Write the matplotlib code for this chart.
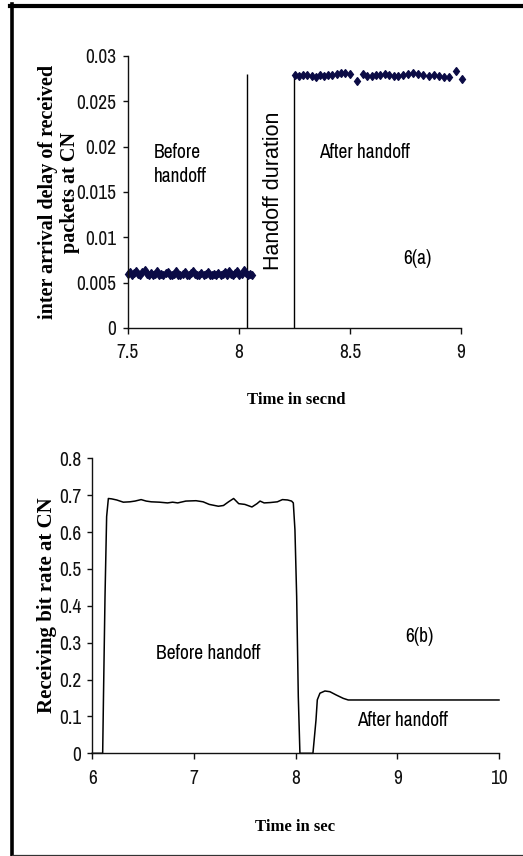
import matplotlib
matplotlib.use("Agg")
import matplotlib.pyplot as plt
from matplotlib.lines import Line2D

# ---------------- data: 6(a) inter-arrival delay ----------------
before_t = [7.500, 7.509, 7.519, 7.528, 7.538, 7.547, 7.557, 7.566, 7.576, 7.585,
            7.595, 7.604, 7.614, 7.623, 7.633, 7.642, 7.652, 7.661, 7.671, 7.680,
            7.690, 7.699, 7.709, 7.718, 7.728, 7.737, 7.747, 7.756, 7.766, 7.775,
            7.785, 7.794, 7.804, 7.813, 7.823, 7.832, 7.842, 7.851, 7.861, 7.870,
            7.880, 7.889, 7.899, 7.908, 7.918, 7.927, 7.937, 7.946, 7.956, 7.965,
            7.975, 7.984, 7.994, 8.003, 8.013, 8.022, 8.032, 8.041, 8.050, 8.058]
before_d = [0.0060, 0.0062, 0.0059, 0.0061, 0.0063, 0.0060, 0.0058, 0.0062, 0.0064, 0.0060,
            0.0059, 0.0061, 0.0058, 0.0060, 0.0063, 0.0059, 0.0060, 0.0058, 0.0061, 0.0062,
            0.0059, 0.0058, 0.0060, 0.0063, 0.0059, 0.0058, 0.0060, 0.0062, 0.0058, 0.0059,
            0.0061, 0.0063, 0.0060, 0.0058, 0.0059, 0.0061, 0.0058, 0.0060, 0.0062, 0.0059,
            0.0058, 0.0060, 0.0059, 0.0061, 0.0058, 0.0060, 0.0062, 0.0059, 0.0063, 0.0060,
            0.0058, 0.0061, 0.0063, 0.0059, 0.0060, 0.0064, 0.0061, 0.0059, 0.0060, 0.0058]
after_t = [8.253, 8.272, 8.290, 8.308, 8.328, 8.347, 8.365, 8.385, 8.403, 8.421,
           8.440, 8.458, 8.478, 8.500, 8.530, 8.557, 8.578, 8.598, 8.617, 8.635,
           8.658, 8.677, 8.698, 8.718, 8.740, 8.763, 8.785, 8.808, 8.830, 8.857,
           8.880, 8.901, 8.923, 8.947, 8.977, 9.003]
after_d = [0.02790, 0.02783, 0.02790, 0.02790, 0.02783, 0.02772, 0.02790, 0.02783, 0.02790, 0.02790,
           0.02798, 0.02809, 0.02816, 0.02801, 0.02728, 0.02801, 0.02783, 0.02783, 0.02790, 0.02790,
           0.02801, 0.02790, 0.02783, 0.02783, 0.02790, 0.02801, 0.02809, 0.02798, 0.02790, 0.02783,
           0.02790, 0.02779, 0.02772, 0.02765, 0.02838, 0.02746]
handoff_marks_t = [8.038, 8.25]
handoff_marks_h = [0.0280, 0.0279]
a_xticks = [7.5, 8, 8.5, 9]
a_xticklabels = ["7.5", "8", "8.5", "9"]
a_yticks = [0, 0.005, 0.01, 0.015, 0.02, 0.025, 0.03]
a_yticklabels = ["0", "0.005", "0.01", "0.015", "0.02", "0.025", "0.03"]

# ---------------- data: 6(b) receiving bit rate ----------------
rate_t = [6.0, 6.102, 6.110, 6.125, 6.141, 6.158, 6.19, 6.24, 6.305, 6.37,
          6.42, 6.48, 6.53, 6.58, 6.66, 6.74, 6.79, 6.84, 6.92, 7.02,
          7.09, 7.15, 7.24, 7.29, 7.34, 7.39, 7.44, 7.50, 7.57, 7.62,
          7.65, 7.69, 7.75, 7.82, 7.87, 7.92, 7.96, 7.977, 7.993, 8.010,
          8.026, 8.042, 8.170, 8.200, 8.213, 8.239, 8.288, 8.337, 8.400, 8.468,
          8.517, 10.0]
rate_v = [0, 0, 0.154, 0.425, 0.642, 0.691, 0.690, 0.687, 0.681, 0.682,
          0.684, 0.688, 0.684, 0.682, 0.681, 0.679, 0.681, 0.679, 0.684, 0.685,
          0.682, 0.675, 0.670, 0.672, 0.682, 0.691, 0.677, 0.675, 0.668, 0.677,
          0.684, 0.679, 0.680, 0.682, 0.688, 0.687, 0.684, 0.679, 0.606, 0.425,
          0.154, 0, 0, 0.090, 0.145, 0.163, 0.169, 0.167, 0.158, 0.149,
          0.1446, 0.1446]
b_xticks = [6, 7, 8, 9, 10]
b_xticklabels = ["6", "7", "8", "9", "10"]
b_yticks = [0, 0.1, 0.2, 0.3, 0.4, 0.5, 0.6, 0.7, 0.8]
b_yticklabels = ["0", "0.1", "0.2", "0.3", "0.4", "0.5", "0.6", "0.7", "0.8"]

NARROW = ["Archivo Narrow", "DejaVu Sans"]
SANS = ["Liberation Sans", "DejaVu Sans"]
SERIF = ["Liberation Serif", "DejaVu Serif"]
TICK_FS = 14
NOTE_FS = 14
LABEL_FS = 15
MARK_COLOR = "#0b0b45"

fig = plt.figure(figsize=(5.23, 8.56), dpi=100)
W, H = 523.0, 856.0


def style_axes(ax, xt, xtl, yt, ytl):
    for s in ("top", "right"):
        ax.spines[s].set_visible(False)
    for s in ("left", "bottom"):
        ax.spines[s].set_linewidth(1.0)
        ax.spines[s].set_color("#111111")
    ax.tick_params(axis="x", direction="out", length=4, width=1.0, pad=7,
                   colors="#111111", labelsize=TICK_FS, labelfontfamily=NARROW)
    ax.tick_params(axis="y", direction="out", length=3.5, width=1.0, pad=4.5,
                   colors="#111111", labelsize=TICK_FS, labelfontfamily=NARROW)
    ax.set_xticks(xt)
    ax.set_xticklabels(xtl)
    ax.set_yticks(yt)
    ax.set_yticklabels(ytl)


# ---------------- top: 6(a) ----------------
axA = fig.add_axes([127.7 / W, 1 - 328 / H, (461 - 127.7) / W, (328 - 56) / H])
axA.set_xlim(7.5, 9.0)
axA.set_ylim(0, 0.03)
style_axes(axA, a_xticks, a_xticklabels, a_yticks, a_yticklabels)
axA.vlines(handoff_marks_t, 0, handoff_marks_h, color="black", lw=1.0)
axA.plot(before_t, before_d, linestyle="none", marker="d", markersize=4.3,
         color=MARK_COLOR, markeredgewidth=0.9, clip_on=False)
axA.plot(after_t, after_d, linestyle="none", marker="d", markersize=4.3,
         color=MARK_COLOR, markeredgewidth=0.9, clip_on=False)
axA.text(7.618, 0.0180, "Before\nhandoff", family=NARROW, fontsize=NOTE_FS,
         ha="left", va="center", linespacing=1.35)
axA.text(8.154, 0.0151, "Handoff duration", family=SANS, fontsize=15.5,
         ha="center", va="center", rotation=90)
axA.text(8.361, 0.0194, "After handoff", family=NARROW, fontsize=NOTE_FS,
         ha="left", va="center")
axA.text(8.739, 0.0077, "6(a)", family=NARROW, fontsize=NOTE_FS,
         ha="left", va="center")
axA.set_xlabel("Time in secnd", family=SERIF, fontweight="bold", fontsize=12)
axA.xaxis.label.set_va("center")
axA.xaxis.set_label_coords(0.505, -0.265)
axA.set_ylabel("inter arrival delay of received\npackets at CN", family=SERIF,
               fontweight="bold", fontsize=14.5, linespacing=1.12)
axA.yaxis.label.set_va("center")
axA.yaxis.set_label_coords(-0.207, 0.50)

# ---------------- bottom: 6(b) ----------------
axB = fig.add_axes([92.3 / W, 1 - 753.3 / H, (499 - 92.3) / W, (753.3 - 458.3) / H])
axB.set_xlim(6, 10)
axB.set_ylim(0, 0.8)
style_axes(axB, b_xticks, b_xticklabels, b_yticks, b_yticklabels)
axB.plot(rate_t, rate_v, color="black", lw=1.1, clip_on=False)
axB.text(7.141, 0.271, "Before handoff", family=NARROW, fontsize=NOTE_FS,
         ha="center", va="center")
axB.text(9.075, 0.316, "6(b)", family=NARROW, fontsize=NOTE_FS,
         ha="left", va="center")
axB.text(8.60, 0.090, "After handoff", family=NARROW, fontsize=NOTE_FS,
         ha="left", va="center")
axB.set_xlabel("Time in sec", family=SERIF, fontweight="bold", fontsize=12)
axB.xaxis.label.set_va("center")
axB.xaxis.set_label_coords(0.498, -0.249)
axB.set_ylabel("Receiving bit rate at CN", family=SERIF, fontweight="bold",
               fontsize=LABEL_FS)
axB.yaxis.label.set_va("center")
axB.yaxis.set_label_coords(-0.112, 0.503)

# ---------------- outer frame ----------------
fig.add_artist(Line2D([10 / W, 1.0], [1 - 6 / H, 1 - 6 / H], color="black", lw=3.0,
                      transform=fig.transFigure))
fig.add_artist(Line2D([11.5 / W, 11.5 / W], [1 - 4 / H, 0.0], color="black", lw=2.6,
                      transform=fig.transFigure))
fig.add_artist(Line2D([12 / W, 1.0], [1 - 854.5 / H, 1 - 854.5 / H], color="#333333",
                      lw=0.9, transform=fig.transFigure))

fig.savefig("out.png", dpi=100)
